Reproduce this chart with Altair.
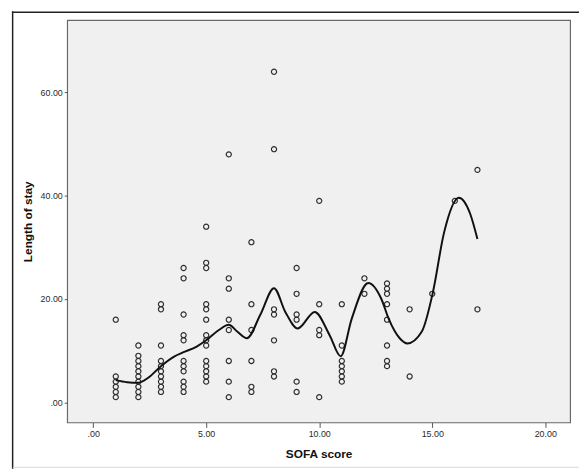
import altair as alt
import pandas as pd

# Scatter data: SOFA score vs length of stay
sofa_score = (
    [1] * 6 + [2] * 10 + [3] * 10 + [4] * 11 + [5] * 14 + [6] * 8 + [7] * 6 +
    [8] * 7 + [9] * 6 + [10] * 5 + [11] * 7 + [12] * 2 + [13] * 8 + [14] * 2 +
    [15] * 1 + [16] * 1 + [17] * 2
)
length_of_stay = (
    [16, 5, 4, 3, 2, 1] +
    [11, 9, 8, 7, 6, 5, 4, 3, 2, 1] +
    [19, 18, 11, 8, 7, 6, 5, 4, 3, 2] +
    [26, 24, 17, 13, 12, 8, 7, 6, 4, 3, 2] +
    [34, 27, 26, 19, 18, 16, 13, 12, 11, 8, 7, 6, 5, 4] +
    [48, 24, 22, 16, 14, 8, 4, 1] +
    [31, 19, 14, 8, 3, 2] +
    [64, 49, 18, 17, 12, 6, 5] +
    [26, 21, 17, 16, 4, 2] +
    [39, 19, 14, 13, 1] +
    [19, 11, 8, 7, 6, 5, 4] +
    [24, 21] +
    [23, 22, 21, 19, 16, 11, 8, 7] +
    [18, 5] +
    [21] +
    [39] +
    [45, 18]
)

# Fitted curve
curve_x = [1.0, 1.5, 2.0, 2.45, 3.0, 3.6, 4.0, 4.58, 5.0, 5.56, 6.0, 6.37, 6.8,
           7.4, 8.0, 8.5, 9.05, 9.8, 10.46, 10.95, 11.44, 12.17, 12.75, 13.07,
           13.56, 13.9, 14.54, 15.03, 15.52, 16.18, 16.67, 17.0]
curve_y = [4.3, 3.9, 3.8, 4.8, 7.0, 8.9, 9.7, 10.8, 12.0, 14.0, 15.0, 13.7, 12.4,
           17.0, 22.1, 17.5, 14.3, 17.5, 13.0, 8.9, 16.2, 23.1, 20.0, 16.2,
           12.4, 11.4, 13.7, 21.3, 32.8, 39.6, 36.6, 31.6]

x_ticks = [0, 5, 10, 15, 20]
y_ticks = [0, 20, 40, 60]

pts = pd.DataFrame({"sofa": sofa_score, "los": length_of_stay})
crv = pd.DataFrame({"sofa": curve_x, "los": curve_y})

FONT = "Liberation Sans"
lab_expr = "datum.value == 0 ? '.00' : format(datum.value, '.2f')"

xscale = alt.Scale(domain=[-1.15, 21.1], nice=False, zero=False)
yscale = alt.Scale(domain=[-3.9, 74.0], nice=False, zero=False)

xaxis = alt.Axis(
    values=x_ticks, labelExpr=lab_expr, grid=False, domain=False,
    tickSize=5, tickColor="#555555", labelPadding=2, labelFontSize=9,
    labelColor="#2a2a2a", labelFont=FONT, title="SOFA score",
    titleFont=FONT, titleFontSize=12, titleFontWeight="bold", titleColor="#111111",
    titleX=255, titleY=32, titleAlign="center", titleBaseline="middle",
)
yaxis = alt.Axis(
    values=y_ticks, labelExpr=lab_expr, grid=False, domain=False,
    tickSize=3, tickColor="#555555", labelPadding=2, labelFontSize=9,
    labelColor="#2a2a2a", labelFont=FONT, title="Length of stay",
    titleFont=FONT, titleFontSize=12, titleFontWeight="bold", titleColor="#111111",
    titleX=-40, titleY=204, titleAngle=270, titleAlign="center", titleBaseline="middle",
)

points = alt.Chart(pts).mark_point(
    shape="circle", filled=False, size=27, strokeWidth=1.2, color="#2e2e2e", opacity=1
).encode(
    x=alt.X("sofa:Q", scale=xscale, axis=xaxis),
    y=alt.Y("los:Q", scale=yscale, axis=yaxis),
)

line = alt.Chart(crv).mark_line(
    color="#111111", strokeWidth=2, interpolate="monotone"
).encode(
    x=alt.X("sofa:Q", scale=xscale),
    y=alt.Y("los:Q", scale=yscale),
)

one = pd.DataFrame({"a": [0]})
left_border = alt.Chart(one).mark_rule(color="#222222", strokeWidth=1.5).encode(
    x=alt.value(-55.3), y=alt.value(-9), y2=alt.value(455)
)
top_border = alt.Chart(one).mark_rule(color="#222222", strokeWidth=1.5).encode(
    x=alt.value(-56), x2=alt.value(525), y=alt.value(-8)
)
bottom_border = alt.Chart(one).mark_rule(color="#d8d8d8", strokeWidth=1).encode(
    x=alt.value(-55), x2=alt.value(525), y=alt.value(453.5)
)

chart = alt.layer(points, line, left_border, top_border, bottom_border).properties(
    width=510, height=408,
    autosize=alt.AutoSizeParams(type="none"),
    padding={"left": 60, "top": 9, "right": 9, "bottom": 47},
    background="white",
).configure_view(
    fill="#F0F0F0", stroke="#6a6a6a", strokeWidth=1.2
)

chart.save("out.html", embed_options={"renderer": "svg", "actions": False})
